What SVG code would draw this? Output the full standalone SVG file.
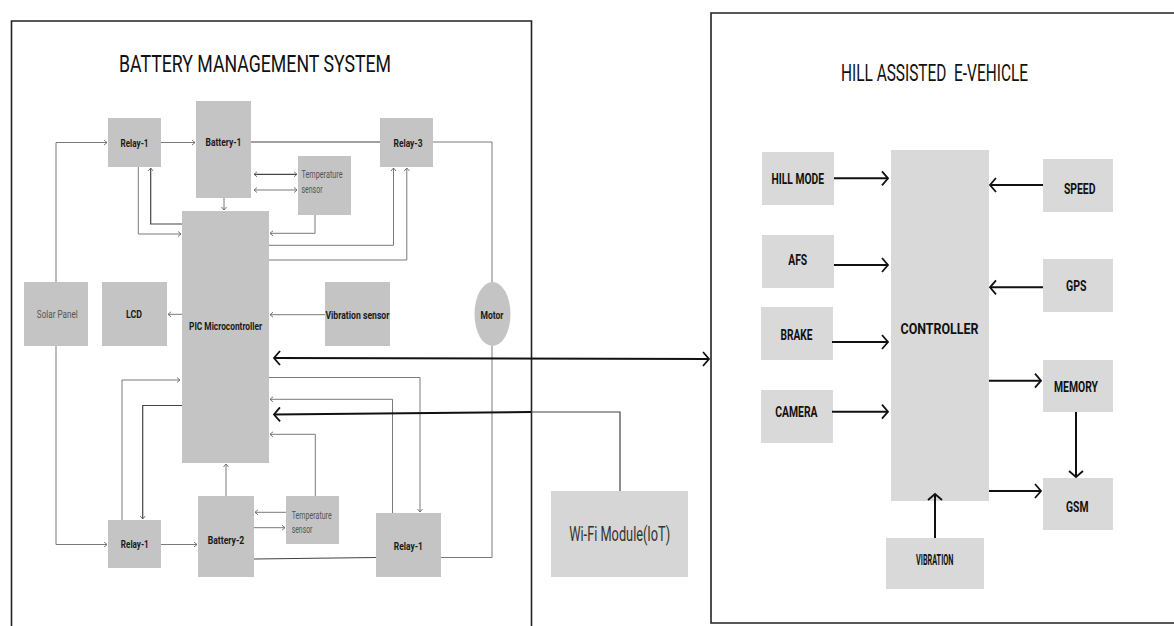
<svg xmlns="http://www.w3.org/2000/svg" width="1174" height="626" viewBox="0 0 1174 626">
<style>
.frame{fill:none;stroke:#222;stroke-width:1.6}
.lb{fill:#c4c4c4}
.rb{fill:#d9d9d9}
.t{fill:none;stroke:#7a7a7a;stroke-width:1}
.td{fill:none;stroke:#444;stroke-width:1.2}
.k{fill:none;stroke:#111;stroke-width:2}
.lbl{font-family:"Roboto","Liberation Sans",sans-serif;font-weight:bold;font-size:11.5px;fill:#1a1a1a;text-anchor:middle}
.reg{font-family:"Roboto","Liberation Sans",sans-serif;font-size:10px;fill:#555}
.rl{font-family:"Roboto","Liberation Sans",sans-serif;font-weight:bold;font-size:15.5px;fill:#111;text-anchor:middle}
.title{font-family:"Roboto","Liberation Sans",sans-serif;font-weight:normal;fill:#111}
</style>
<defs>
<marker id="s" markerUnits="userSpaceOnUse" markerWidth="6" markerHeight="7" refX="3.5" refY="3" orient="auto-start-reverse">
<path d="M0.5,0.5 L3.5,3 L0.5,5.5" fill="none" stroke="#666" stroke-width="0.9"/>
</marker>
<marker id="c" markerUnits="userSpaceOnUse" markerWidth="10" markerHeight="18" refX="7" refY="8" orient="auto-start-reverse">
<path d="M1,1 L7,8 L1,15" fill="none" stroke="#111" stroke-width="1.8"/>
</marker>
</defs>
<rect width="1174" height="626" fill="#fff"/>
<path class="frame" d="M11.5,640 V21 H531.5 V640"/>
<path class="frame" d="M1180,13 H711 V623 H1180"/>
<text class="title" x="119" y="71.5" font-size="23.5" textLength="272" lengthAdjust="spacingAndGlyphs">BATTERY MANAGEMENT SYSTEM</text>
<text class="title" x="841" y="81" font-size="23" textLength="187" lengthAdjust="spacingAndGlyphs" xml:space="preserve">HILL ASSISTED  E-VEHICLE</text>

<g id="relay1-top"><rect class="lb" x="108" y="118" width="53" height="49"/><text class="lbl" x="134.5" y="146.7" textLength="28" lengthAdjust="spacingAndGlyphs">Relay-1</text></g>
<g id="battery1"><rect class="lb" x="196" y="101" width="55" height="97"/><text class="lbl" x="223.5" y="145.7" textLength="36" lengthAdjust="spacingAndGlyphs">Battery-1</text></g>
<g id="relay3"><rect class="lb" x="380" y="118" width="53" height="49"/><text class="lbl" x="408" y="147.2" textLength="29" lengthAdjust="spacingAndGlyphs">Relay-3</text></g>
<g id="temp1"><rect class="lb" x="298" y="156" width="53" height="59"/><text class="reg" x="301.5" y="178" textLength="41" lengthAdjust="spacingAndGlyphs">Temperature</text><text class="reg" x="301.5" y="193" textLength="21" lengthAdjust="spacingAndGlyphs">sensor</text></g>
<g id="pic"><rect class="lb" x="182" y="211" width="87" height="252"/><text class="lbl" x="225.5" y="330.2" textLength="73" lengthAdjust="spacingAndGlyphs">PIC Microcontroller</text></g>
<g id="solar"><rect class="lb" x="24" y="282" width="64" height="64"/><text class="reg" x="57.3" y="317.5" font-size="11.5" text-anchor="middle" textLength="41" lengthAdjust="spacingAndGlyphs">Solar Panel</text></g>
<g id="lcd"><rect class="lb" x="102" y="282" width="65" height="64"/><text class="lbl" x="134" y="317.5" textLength="16" lengthAdjust="spacingAndGlyphs">LCD</text></g>
<g id="vibsensor"><rect class="lb" x="325" y="282" width="65" height="64"/><text class="lbl" x="357.4" y="318.9" textLength="64" lengthAdjust="spacingAndGlyphs">Vibration sensor</text></g>
<g id="motor"><ellipse class="lb" cx="492.5" cy="314" rx="18" ry="32"/><text class="lbl" x="492" y="318.9" textLength="23" lengthAdjust="spacingAndGlyphs">Motor</text></g>
<g id="relay1-bl"><rect class="lb" x="108" y="520" width="53" height="48"/><text class="lbl" x="134.8" y="547.5" textLength="28" lengthAdjust="spacingAndGlyphs">Relay-1</text></g>
<g id="battery2"><rect class="lb" x="198" y="496" width="56" height="81"/><text class="lbl" x="226" y="544.2" textLength="36.6" lengthAdjust="spacingAndGlyphs">Battery-2</text></g>
<g id="temp2"><rect class="lb" x="286" y="496" width="53" height="48"/><text class="reg" x="291.7" y="518.5" textLength="40" lengthAdjust="spacingAndGlyphs">Temperature</text><text class="reg" x="291.7" y="533" textLength="20.7" lengthAdjust="spacingAndGlyphs">sensor</text></g>
<g id="relay1-br"><rect class="lb" x="376" y="513" width="65" height="64"/><text class="lbl" x="408.3" y="550.2" textLength="29" lengthAdjust="spacingAndGlyphs">Relay-1</text></g>
<g id="wifi"><rect x="551" y="491" width="137" height="86" fill="#d6d6d6"/><text x="619.7" y="541" font-family="Roboto, 'Liberation Sans', sans-serif" font-size="19.5" fill="#333" text-anchor="middle" textLength="101" lengthAdjust="spacingAndGlyphs">Wi-Fi Module(IoT)</text></g>

<g id="hillmode"><rect class="rb" x="762" y="152" width="72" height="53"/><text class="rl" x="797.8" y="183.8" textLength="52.5" lengthAdjust="spacingAndGlyphs">HILL MODE</text></g>
<g id="controller"><rect class="rb" x="891" y="150" width="98" height="351"/><text class="rl" x="939.5" y="333.5" font-size="18.5" textLength="78" lengthAdjust="spacingAndGlyphs">CONTROLLER</text></g>
<g id="speed"><rect class="rb" x="1043" y="159" width="70" height="53"/><text class="rl" x="1079.7" y="193.8" textLength="31.6" lengthAdjust="spacingAndGlyphs">SPEED</text></g>
<g id="afs"><rect class="rb" x="762" y="235" width="72" height="53"/><text class="rl" x="797.7" y="264.8" textLength="19" lengthAdjust="spacingAndGlyphs">AFS</text></g>
<g id="gps"><rect class="rb" x="1043" y="259" width="70" height="53"/><text class="rl" x="1076.3" y="291.2" textLength="20.5" lengthAdjust="spacingAndGlyphs">GPS</text></g>
<g id="brake"><rect class="rb" x="761" y="307" width="72" height="53"/><text class="rl" x="796.5" y="340.2" textLength="32" lengthAdjust="spacingAndGlyphs">BRAKE</text></g>
<g id="camera"><rect class="rb" x="761" y="390" width="72" height="53"/><text class="rl" x="796.4" y="417.2" textLength="42.3" lengthAdjust="spacingAndGlyphs">CAMERA</text></g>
<g id="memory"><rect class="rb" x="1043" y="360" width="70" height="52"/><text class="rl" x="1076" y="392.2" textLength="44" lengthAdjust="spacingAndGlyphs">MEMORY</text></g>
<g id="gsm"><rect class="rb" x="1043" y="478" width="70" height="52"/><text class="rl" x="1077.3" y="512.2" textLength="22.5" lengthAdjust="spacingAndGlyphs">GSM</text></g>
<g id="vibration"><rect class="rb" x="886" y="538" width="98" height="51"/><text class="rl" x="934.7" y="565" font-size="9.5" textLength="37.4" lengthAdjust="spacingAndGlyphs">VIBRATION</text></g>

<g id="connectors">
<path class="t" d="M56,282 V142.5 H107" marker-end="url(#s)"/>
<path class="t" d="M161,142.5 H195" marker-end="url(#s)"/>
<path class="td" d="M251,142 H380"/>
<path class="t" d="M433,142 H492 V282"/>
<path class="t" d="M492,346 V557.5 H441"/>
<path class="td" d="M254,559 L376,557.5"/>
<path class="t" d="M56,346 V544.5 H107" marker-end="url(#s)"/>
<path class="t" d="M161,544.5 H197" marker-end="url(#s)"/>
<path class="td" d="M254,174.3 H297" marker-start="url(#s)" marker-end="url(#s)"/>
<path class="t" d="M254,190 H297" marker-start="url(#s)" marker-end="url(#s)"/>
<path class="t" d="M224,198 V210" marker-end="url(#s)"/>
<path class="t" d="M138.3,167 V234 H181" marker-end="url(#s)"/>
<path class="td" d="M182,224 H150.7 V168" marker-end="url(#s)"/>
<path class="t" d="M315,215 V233.3 H270" marker-end="url(#s)"/>
<path class="t" d="M269,245.3 H393.5 V168" marker-end="url(#s)"/>
<path class="t" d="M269,260 H406.8 V168" marker-end="url(#s)"/>
<path class="t" d="M182,314.3 H168" marker-end="url(#s)"/>
<path class="t" d="M325,314.7 H270" marker-end="url(#s)"/>
<path class="t" d="M122,520 V380 H180" marker-end="url(#s)"/>
<path class="td" d="M182,405.5 H142.7 V519" marker-end="url(#s)"/>
<path class="t" d="M269,377.5 H420 V512" marker-end="url(#s)"/>
<path class="t" d="M392.5,513 V399.3 H270" marker-end="url(#s)"/>
<path class="t" d="M315.3,496 V434.3 H270" marker-end="url(#s)"/>
<path class="t" d="M226,496 V464" marker-end="url(#s)"/>
<path class="t" d="M286,512.3 H255" marker-end="url(#s)"/>
<path class="t" d="M254,527.7 H285" marker-end="url(#s)"/>
<path class="k" d="M274,358 L709,359" marker-start="url(#c)" marker-end="url(#c)"/>
<path class="td" d="M620,491 V412 H530"/>
<path class="k" d="M531,412 L274,414.5" marker-end="url(#c)"/>
<path class="k" d="M834,178.3 H888" marker-end="url(#c)"/>
<path class="k" d="M1043,185 H990" marker-end="url(#c)"/>
<path class="k" d="M834,265 H888" marker-end="url(#c)"/>
<path class="k" d="M1043,287.3 H990" marker-end="url(#c)"/>
<path class="k" d="M832,342 H888" marker-end="url(#c)"/>
<path class="k" d="M832,411.7 H888" marker-end="url(#c)"/>
<path class="k" d="M989,380.7 H1041" marker-end="url(#c)"/>
<path class="k" d="M989,491 H1041" marker-end="url(#c)"/>
<path class="k" d="M1076,412 V477" marker-end="url(#c)"/>
<path class="k" d="M935,538 V494" marker-end="url(#c)"/>
</g>
</svg>
